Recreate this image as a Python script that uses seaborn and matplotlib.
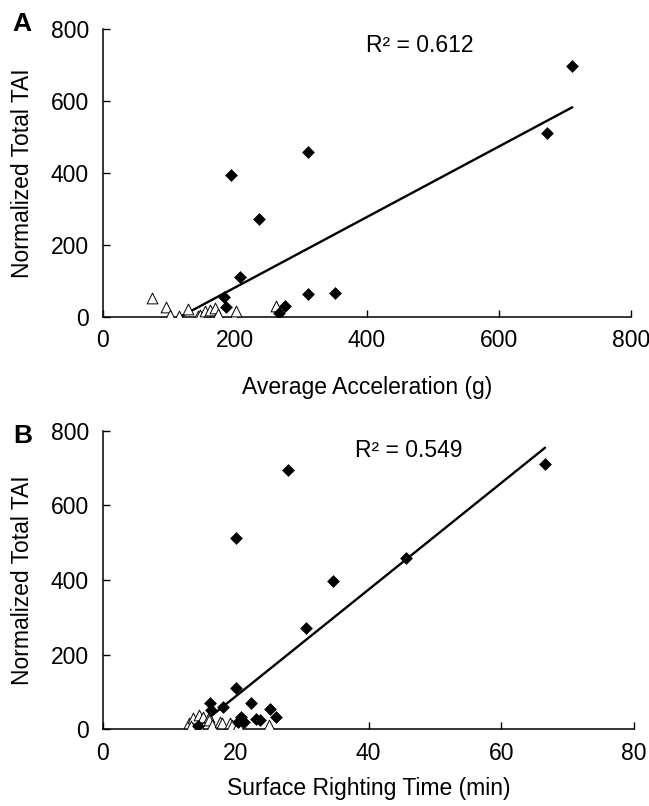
import numpy as np
import pandas as pd
import matplotlib
matplotlib.use('Agg')
import matplotlib.pyplot as plt
import seaborn as sns

# Panel A: average acceleration (g) vs normalized total TAI
a_diam_x = [194, 311, 237, 208, 184, 187, 311, 352, 266, 275, 672, 711]
a_diam_y = [395, 457, 273, 111, 55, 27, 65, 68, 11, 30, 512, 697]
a_tri_x = [75, 95, 101, 115, 129, 144, 147, 154, 162, 169, 174, 198, 201, 262]
a_tri_y = [53, 27, 6, 4, 23, 4, 6, 16, 20, 25, 9, 4, 18, 30]

# Panel B: surface righting time (min) vs normalized total TAI
b_diam_x = [27.9, 20.1, 34.7, 30.6, 45.7, 66.6, 20.0, 16.1, 18.1, 22.3, 25.2, 26.0,
            23.0, 23.7, 20.8, 21.2, 20.3, 16.3, 14.3]
b_diam_y = [695, 512, 397, 270, 460, 711, 110, 71, 59, 71, 54, 32,
            27, 25, 34, 20, 20, 52, 8]
b_tri_x = [12.9, 13.6, 14.4, 15.1, 13.3, 14.5, 16.0, 15.9, 16.4, 17.6, 17.9, 19.1, 19.4, 20.3, 25.0]
b_tri_y = [16, 29, 38, 33, 8, 8, 34, 25, 12, 20, 16, 16, 12, 12, 12]

sns.set_style('ticks')
plt.rcParams['font.family'] = ['Liberation Sans', 'DejaVu Sans']
plt.rcParams['text.color'] = 'black'
plt.rcParams['axes.labelcolor'] = 'black'

FS = 16.5

fig = plt.figure(figsize=(6.49, 8.06), dpi=100)
ax_a = fig.add_axes([0.1587, 0.6067, 0.8136, 0.3573])
ax_b = fig.add_axes([0.1587, 0.0952, 0.8182, 0.3705])


def draw_panel(ax, dx, dy, tx, ty, xmax, xstep, xlabel, r2_text, r2_pos):
    df_d = pd.DataFrame({'x': dx, 'y': dy})
    df_t = pd.DataFrame({'x': tx, 'y': ty})
    df_all = pd.concat([df_d, df_t], ignore_index=True)

    # linear trendline over all animals
    sns.regplot(data=df_all, x='x', y='y', ax=ax, scatter=False, ci=None,
                color='black', line_kws={'lw': 1.7})
    sns.scatterplot(data=df_t, x='x', y='y', ax=ax, marker='^', s=60,
                    facecolor='white', edgecolor='black', linewidth=0.7, zorder=3)
    sns.scatterplot(data=df_d, x='x', y='y', ax=ax, marker='D', s=36,
                    color='black', edgecolor='black', linewidth=0.5, zorder=4)

    ax.set_xlim(0, xmax)
    ax.set_ylim(0, 800)
    ax.set_xticks(np.arange(0, xmax + 1, xstep))
    ax.set_yticks(np.arange(0, 801, 200))
    ax.tick_params(direction='in', length=5, width=1, labelsize=FS, colors='black')
    ax.tick_params(axis='x', pad=9)
    ax.tick_params(axis='y', pad=10)
    for sp in ['left', 'bottom']:
        ax.spines[sp].set_color('black')
        ax.spines[sp].set_linewidth(1.1)
    sns.despine(ax=ax)

    ax.set_xlabel(xlabel, fontsize=FS)
    ax.set_ylabel('Normalized Total TAI', fontsize=FS)
    ax.yaxis.set_label_coords(-0.13, 0.5)

    ax.text(r2_pos[0], r2_pos[1], r2_text, fontsize=FS, ha='center', va='center')


draw_panel(ax_a, a_diam_x, a_diam_y, a_tri_x, a_tri_y, 800, 200,
           'Average Acceleration (g)', 'R² = 0.612', (480, 755))
ax_a.xaxis.set_label_coords(0.5, -0.205)
ax_a.text(-0.153, 1.017, 'A', transform=ax_a.transAxes, fontsize=19,
          fontweight='bold', ha='center', va='center')

draw_panel(ax_b, b_diam_x, b_diam_y, b_tri_x, b_tri_y, 80, 20,
           'Surface Righting Time (min)', 'R² = 0.549', (46, 748))
ax_b.xaxis.set_label_coords(0.5, -0.16)
ax_b.text(-0.151, 0.982, 'B', transform=ax_b.transAxes, fontsize=19,
          fontweight='bold', ha='center', va='center')

fig.savefig('out.png', dpi=100)
